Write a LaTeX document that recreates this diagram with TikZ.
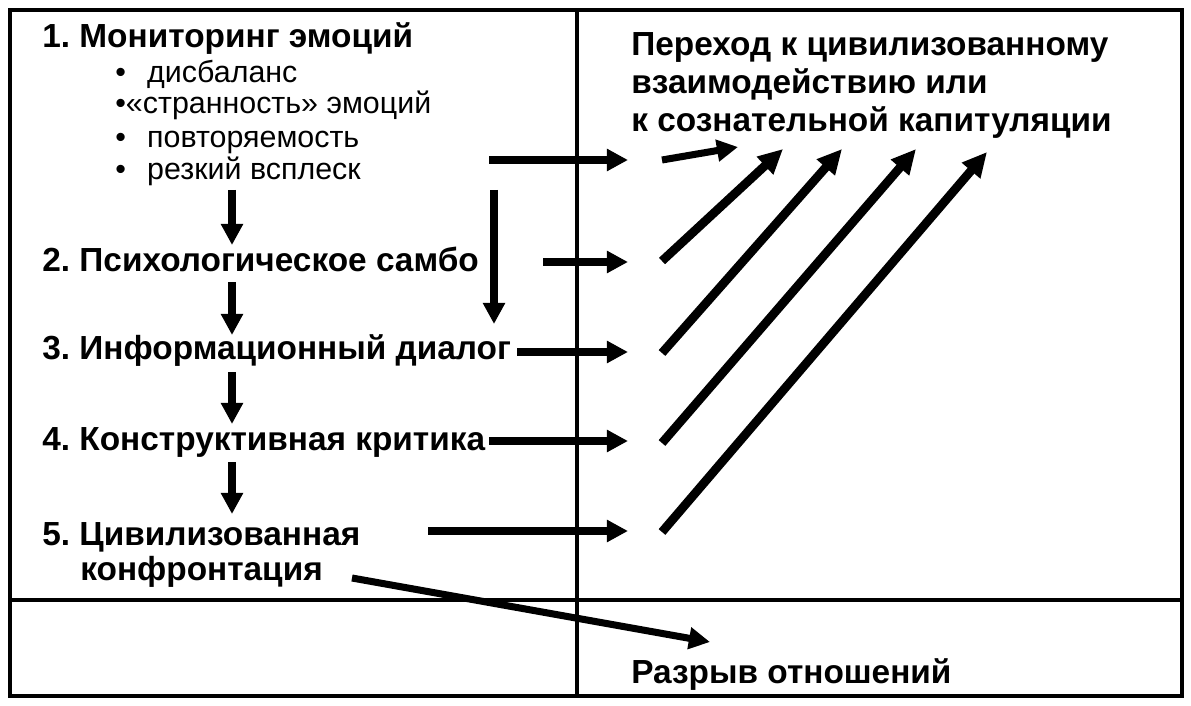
\documentclass[tikz,border=0pt]{standalone}
\usepackage{fontspec}
\setmainfont{Liberation Sans}
\frenchspacing
\usetikzlibrary{arrows.meta, positioning}
\tikzset{
	framebox/.style={
			line width=2.3pt,
			line cap=rect
		},
	headnode/.style={
			anchor=base west,
			inner sep=0pt,
			font=\bfseries\fontsize{19}{23}\selectfont
		},
	itemnode/.style={
			anchor=base west,
			inner sep=0pt,
			font=\fontsize{17.3}{21}\selectfont
		},
	bigarrow/.style={
			line width=4pt,
			-{Triangle[length=12pt, width=12pt]}
		},
	diagarrow/.style={
			line width=5pt,
			-{Triangle[length=14pt, width=13pt]}
		}
}

\begin{document}
\begin{tikzpicture}[x=0.02cm, y=-0.02cm]
\useasboundingbox (0,0) rectangle (1191,706);

% frame
\draw[framebox] (10,10) rectangle (1182,696);
\draw[framebox] (577,10) -- (577,696);
\draw[framebox] (10,600) -- (1182,600);

% left column
\node[headnode] (h1) at (42,48) {1. Мониторинг эмоций};
\node[itemnode] (b1) at (115,83)  {•\hspace{0.7em}дисбаланс};
\node[itemnode] (b2) at (115,114) {•«странность» эмоций};
\node[itemnode] (b3) at (115,148) {•\hspace{0.7em}повторяемость};
\node[itemnode] (b4) at (115,180) {•\hspace{0.7em}резкий всплеск};
\node[headnode] (h2) at (42,272) {2. Психологическое самбо};
\node[headnode] (h3) at (42,359) {3. Информационный диалог};
\node[headnode] (h4) at (42,450) {4. Конструктивная критика};
\node[headnode] (h5) at (42,545) {5. Цивилизованная};
\node[headnode] (h5b) at (80,580) {конфронтация};

% right column
\node[headnode] (g1) at (631,56)  {Переход к цивилизованному};
\node[headnode] (g2) at (631,94)  {взаимодействию или};
\node[headnode] (g3) at (631,132) {к сознательной капитуляции};
\node[headnode] (br) at (631,683) {Разрыв отношений};

% arrow ends
\coordinate (d1s) at (232,190);
\coordinate (d1e) at (232,245);
\coordinate (d2s) at (232,282);
\coordinate (d2e) at (232,335);
\coordinate (d3s) at (232,372);
\coordinate (d3e) at (232,424);
\coordinate (d4s) at (232,462);
\coordinate (d4e) at (232,514);
\coordinate (dls) at (494,190);
\coordinate (dle) at (494,324);

\coordinate (r1s) at (489,160);
\coordinate (r1e) at (628,160);
\coordinate (r2s) at (543,262);
\coordinate (r2e) at (628,262);
\coordinate (r3s) at (517,352);
\coordinate (r3e) at (628,352);
\coordinate (r4s) at (489,441);
\coordinate (r4e) at (628,441);
\coordinate (r5s) at (428,531);
\coordinate (r5e) at (628,531);

\coordinate (s1s) at (662,160);
\coordinate (s1e) at (738,147);
\coordinate (s2s) at (662,261);
\coordinate (s2e) at (783,149);
\coordinate (s3s) at (662,353);
\coordinate (s3e) at (842,149);
\coordinate (s4s) at (662,443);
\coordinate (s4e) at (916,149);
\coordinate (s5s) at (662,532);
\coordinate (s5e) at (987,152);

\coordinate (x1s) at (352,578);
\coordinate (x1e) at (710,642);

\draw[bigarrow] (d1s) -- (d1e);
\draw[bigarrow] (d2s) -- (d2e);
\draw[bigarrow] (d3s) -- (d3e);
\draw[bigarrow] (d4s) -- (d4e);
\draw[bigarrow] (dls) -- (dle);

\draw[bigarrow] (r1s) -- (r1e);
\draw[bigarrow] (r2s) -- (r2e);
\draw[bigarrow] (r3s) -- (r3e);
\draw[bigarrow] (r4s) -- (r4e);
\draw[bigarrow] (r5s) -- (r5e);

\draw[bigarrow] (s1s) -- (s1e);
\draw[diagarrow] (s2s) -- (s2e);
\draw[diagarrow] (s3s) -- (s3e);
\draw[diagarrow] (s4s) -- (s4e);
\draw[diagarrow] (s5s) -- (s5e);

\draw[bigarrow] (x1s) -- (x1e);

\end{tikzpicture}
\end{document}
